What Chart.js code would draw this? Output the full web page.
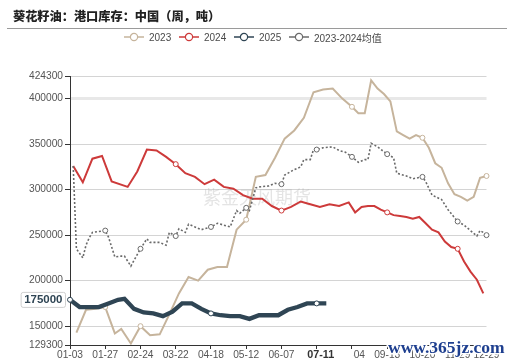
<!DOCTYPE html>
<html><head><meta charset="utf-8">
<script src="https://cdn.jsdelivr.net/npm/chart.js@4"></script>
<style>
html,body{margin:0;padding:0;background:#fff;}
#wrap{position:relative;width:511px;height:362px;overflow:hidden;background:#fff;}
#c{position:absolute;left:0;top:0;}
#title{position:absolute;left:13px;top:7px;font-weight:900;font-size:12.2px;font-family:"Noto Sans CJK SC";color:#222;white-space:nowrap;line-height:18px;}
#sep{position:absolute;left:7px;top:28px;width:500px;height:1px;background:#9a9a9a;}
.lg{position:absolute;top:30px;height:14px;display:flex;align-items:center;font-size:10px;font-family:"Liberation Sans","Noto Sans CJK SC";color:#4a4a4a;white-space:nowrap;}
.lg svg{margin-right:5px;}
</style></head>
<body><div id="wrap"><canvas id="c" width="511" height="362"></canvas>
<div id="title">葵花籽油：港口库存：中国（周，吨）</div><div id="sep"></div>
<div id="legend"></div></div>
<script>
// ---- data ----
const categories = [
'01-03','01-05','01-06','01-10','01-12','01-13','01-17','01-19','01-20','01-24',
'01-26','01-27','01-31','02-02','02-03','02-07','02-10','02-14','02-16','02-17',
'02-21','02-23','02-24','02-28','03-01','03-03','03-07','03-08','03-10','03-14',
'03-15','03-17','03-21','03-22','03-24','03-28','03-29','03-31','04-04','04-05',
'04-07','04-11','04-12','04-14','04-18','04-19','04-21','04-25','04-26','04-28',
'05-02','05-03','05-05','05-09','05-10','05-12','05-16','05-17','05-19','05-23',
'05-24','05-26','05-30','05-31','06-02','06-06','06-07','06-09','06-13','06-14',
'06-16','06-27','06-28','06-30','07-04','07-05','07-07','07-11','07-12','07-14',
'07-18','07-19','07-21','07-25','07-26','07-28','08-01','08-02','08-04','08-09',
'08-11','08-16','08-18','08-23','08-25','08-30','09-01','09-06','09-08','09-13',
'09-15','09-20','09-22','09-27','09-29','10-04','10-06','10-11','10-13','10-18',
'10-20','10-25','10-27','11-01','11-03','11-08','11-10','11-15','11-17','11-22',
'11-24','11-29','12-01','12-06','12-08','12-13','12-15','12-20','12-22','12-27',
'12-29'];
const xTickLabels = ['01-03','01-27','02-24','03-22','04-18','05-12','06-07','07-11','08-04','09-13','10-20','11-29','12-29'];
const yTicks = [129300,150000,200000,250000,300000,350000,400000,424300];
const yMin = 129300, yMax = 424300;

const dates2023 = ['01-06','01-13','01-20','01-27','02-03','02-10','02-17','02-24','03-03','03-10','03-17','03-24','03-31','04-07','04-14','04-21','04-28','05-05','05-12','05-19','05-26','06-02','06-09','06-16','06-30','07-07','07-14','07-21','07-28','08-04','08-11','08-18','08-25','09-01','09-08','09-15','09-22','09-29','10-06','10-13','10-20','10-27','11-03','11-10','11-17','11-24','12-01','12-08','12-15','12-22','12-29'];
const values2023 = [143000,168000,169000,171000,142000,147000,131000,150000,140000,141000,163000,186000,204000,200000,212000,215000,215000,256000,267000,314000,316000,335000,356000,365000,379000,407000,410000,411000,400000,391000,384000,384000,420000,411000,405000,397000,364000,360000,356000,360000,357000,346000,329000,324000,307000,295000,292000,288000,292000,313000,315000];

const dates2024 = ['01-05','01-12','01-19','01-26','02-02','02-16','02-23','03-01','03-08','03-15','03-22','03-29','04-05','04-12','04-19','04-26','05-03','05-10','05-17','05-24','05-31','06-07','06-14','06-28','07-05','07-12','07-19','07-26','08-02','08-09','08-16','08-23','08-30','09-06','09-13','09-20','09-27','10-04','10-11','10-18','10-25','11-01','11-08','11-15','11-22','11-29','12-06','12-13','12-20','12-27'];
const values2024 = [326000,308000,334000,337000,309000,303000,320000,344000,343000,336000,328000,318000,314000,306000,311000,303000,301000,294000,290000,290000,282000,277000,281000,287000,284000,281000,284000,282000,286000,275000,281000,282000,282000,278000,275000,272000,271000,270000,268000,270000,263000,256000,253000,243000,237000,235000,221000,210000,201000,186000];

const dates2025 = ['01-03','01-10','01-17','01-24','01-31','02-07','02-14','02-21','02-28','03-07','03-14','03-21','03-28','04-04','04-11','04-18','04-25','05-02','05-09','05-16','05-23','05-30','06-06','06-13','06-27','07-04','07-11','07-18'];
const values2025 = [179000,171000,171000,171000,175000,179000,180000,169000,165000,164000,161000,166000,175000,175000,169000,164000,162000,161000,161000,158000,162000,162000,162000,168000,171000,175000,175000,175000];

const datesAvg = ['01-05','01-06','01-12','01-13','01-17','01-19','01-24','01-27','01-31','02-03','02-10','02-14','02-17','02-24','03-01','03-03','03-10','03-15','03-17','03-22','03-24','03-29','03-31','04-05','04-11','04-18','04-21','04-26','05-02','05-05','05-09','05-12','05-16','05-19','05-23','05-30','06-02','06-07','06-09','06-16','06-28','06-30','07-05','07-07','07-11','07-14','07-21','07-26','08-01','08-04','08-11','08-18','08-23','08-25','09-01','09-13','09-20','09-22','10-04','10-11','10-20','10-25','11-01','11-10','11-17','11-29','12-06','12-15','12-20','12-22','12-27','12-29'];
const valuesAvg = [326000,235000,225000,239000,247000,253000,254000,255000,248000,226000,227000,227000,216000,235000,246000,242000,242000,239000,253000,249000,257000,253000,262000,259000,256000,259000,263000,261000,259000,277000,274000,280000,277000,302000,303000,304000,307000,306000,316000,322000,325000,333000,333000,344000,344000,346000,347000,343000,341000,336000,330000,333000,333000,351000,347000,339000,335000,318000,315000,312000,314000,309000,294000,289000,278000,265000,261000,252000,249000,255000,253000,250000];

const seriesNames = ['2023','2024','2025','2023-2024均值'];
const seriesColors = ['#c6b49c','#cd3a3a','#2f4554','#6a6a6a'];
const pointerX = '07-11', pointerY = 175000, pointerText = '175000';
const watermark1 = '紫金天风期货', watermark2 = 'www.365jz.com';

// ---- legend ----
const lgLeft = [124,179,234,289];
const legend = document.getElementById('legend');
seriesNames.forEach((n,i)=>{
  const d = document.createElement('div');
  d.className='lg'; d.style.left = lgLeft[i]+'px';
  d.innerHTML = '<svg width="20" height="10"><line x1="0" y1="5" x2="20" y2="5" stroke="'+seriesColors[i]+'" stroke-width="1.5"/><circle cx="10" cy="5" r="3.6" fill="#fff" stroke="'+seriesColors[i]+'" stroke-width="1.2"/></svg><span>'+n+'</span>';
  legend.appendChild(d);
});

// ---- chart ----
const tickIdx = xTickLabels.map(l=>categories.indexOf(l));
const tickSet = new Set(tickIdx);
const pts = (ds, vs) => ds.map((d,i)=>({x:d, y:vs[i]}));
const markR = ctx => (ctx.parsed && tickSet.has(ctx.parsed.x)) ? 2.5 : 0;

function mk(i, dates, vals, width, order, dash){
  return {label: seriesNames[i], data: pts(dates, vals), borderColor: seriesColors[i], borderWidth: width,
    borderDash: dash || [], tension: 0, fill: false, order: order,
    pointRadius: markR, pointHoverRadius: 0, pointBackgroundColor: '#fff',
    pointBorderColor: seriesColors[i], pointBorderWidth: 1};
}

const decor = {
  id:'decor',
  beforeDatasetsDraw(chart){
    const c = chart.ctx; c.save();
    c.font = '18px "Noto Sans CJK SC"'; c.fillStyle = 'rgba(170,170,170,0.32)';
    c.textBaseline = 'middle'; c.textAlign = 'left';
    c.fillText(watermark1, 203, 197);
    c.restore();
  },
  afterDraw(chart){
    const c = chart.ctx, xs = chart.scales.x, ys = chart.scales.y;
    c.save();
    // x axis pointer label
    const px = xs.getPixelForValue(categories.indexOf(pointerX)) + 4;
    c.fillStyle = '#fff'; c.fillRect(300, 349.5, 53.5, 12.5);
    c.font = 'bold 10.8px "Liberation Sans"'; c.fillStyle = '#333';
    c.textAlign = 'center'; c.textBaseline = 'middle';
    c.fillText(pointerX, px, 355);
    // y axis pointer label
    const py = ys.getPixelForValue(pointerY) - 4;
    c.font = 'bold 11.5px "Liberation Sans"';
    const tw = c.measureText(pointerText).width;
    const bw = tw + 6, bh = 15, bx = xs.left - 5 - bw, by = py - bh/2;
    c.beginPath(); c.roundRect(bx+0.5, by+0.5, bw, bh, 2);
    c.fillStyle = '#fff'; c.fill(); c.strokeStyle = '#cfcfcf'; c.lineWidth = 1; c.stroke();
    c.fillStyle = '#2f4554'; c.fillText(pointerText, bx + bw/2 + 0.5, py + 0.5);
    // site watermark
    c.font = 'bold 17.5px "Liberation Serif"'; c.textAlign = 'left'; c.textBaseline = 'alphabetic';
    c.lineJoin = 'round'; c.strokeStyle = '#fff'; c.lineWidth = 3;
    c.strokeText(watermark2, 388, 353);
    c.fillStyle = '#1e3f8f'; c.fillText(watermark2, 388, 353);
    c.restore();
  }
};

new Chart(document.getElementById('c'), {
  type: 'line',
  data: { labels: categories, datasets: [
    mk(0, dates2023, values2023, 2, 3),
    mk(1, dates2024, values2024, 2, 2),
    mk(2, dates2025, values2025, 4.3, 1),
    mk(3, datesAvg, valuesAvg, 1.6, 0, [2,2])
  ]},
  options: {
    responsive: false, animation: false, devicePixelRatio: 1,
    layout: { padding: { top: 76.5, right: 24.5, bottom: 0, left: 0 } },
    plugins: { legend: { display: false }, tooltip: { enabled: false } },
    events: [],
    scales: {
      x: {
        type: 'category', offset: false,
        afterBuildTicks: s => { s.ticks = tickIdx.map(v=>({value:v})); },
        afterFit: s => { s.height = 17; },
        grid: { drawOnChartArea: false, tickLength: 4, tickColor: '#333', tickWidth: 1 },
        border: { color: '#333', width: 1 },
        ticks: { autoSkip: false, maxRotation: 0, minRotation: 0, padding: 0,
          font: { family: 'Liberation Sans', size: 10.2 }, color: '#555',
          callback: v => categories[v] }
      },
      y: {
        type: 'linear', min: yMin, max: yMax,
        afterBuildTicks: s => { s.ticks = yTicks.map(v=>({value:v})); },
        afterFit: s => { s.width = 70; },
        grid: {
          color: ctx => ctx.tick && ctx.tick.value === yMin ? 'rgba(0,0,0,0)' : (ctx.tick && ctx.tick.value === 400000 ? '#e8e8e8' : '#d4d4d4'),
          lineWidth: ctx => ctx.tick && ctx.tick.value === 400000 ? 3 : 1,
          tickLength: 5, tickColor: '#333', tickWidth: 1
        },
        border: { color: '#333', width: 1 },
        ticks: { autoSkip: false, padding: 2, font: { family: 'Liberation Sans', size: 10.2 }, color: '#555',
          callback: v => String(v) }
      }
    }
  },
  plugins: [decor]
});
</script>
</body></html>
